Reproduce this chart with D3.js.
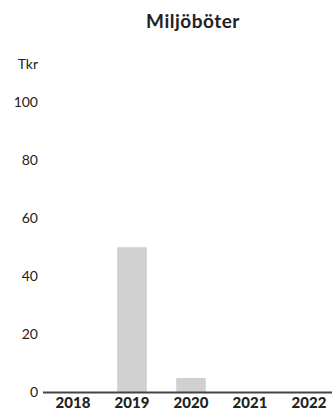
<!DOCTYPE html>
<html>
<head>
<meta charset="utf-8">
<script src="https://cdn.jsdelivr.net/npm/d3@7"></script>
<style>
  html, body { margin: 0; padding: 0; background: #fff; }
  svg { display: block; }
  text { font-family: Lato, "Noto Sans", sans-serif; fill: #222; }
</style>
</head>
<body>
<svg id="chart" width="332" height="410"></svg>
<script>
const title = "Miljöböter";
const unitLabel = "Tkr";
const categories = ["2018", "2019", "2020", "2021", "2022"];
const values = [0, 50, 5, 0, 0];
const yTicks = [0, 20, 40, 60, 80, 100];

const svg = d3.select("#chart");
const W = 332, H = 410;

const x = d3.scaleBand().domain(categories).range([43.5, 338.5]).paddingInner(0.5).paddingOuter(0.25);
const y = d3.scaleLinear().domain([0, 100]).range([392.5, 102]);

svg.append("text")
  .attr("x", 193).attr("y", 28)
  .attr("text-anchor", "middle")
  .style("font-size", "19px").style("font-weight", "bold")
  .style("letter-spacing", "0.5px")
  .text(title);

svg.append("text")
  .attr("x", 38).attr("y", 69)
  .attr("text-anchor", "end")
  .style("font-size", "14px")
  .text(unitLabel);

// y axis labels (no line, no ticks)
const yAxis = d3.axisLeft(y).tickValues(yTicks).tickSize(0).tickPadding(0);
const gy = svg.append("g").attr("transform", "translate(38,0)").call(yAxis);
gy.select(".domain").remove();
gy.selectAll("text").style("font-size", "14px").style("font-family", "Lato, 'Noto Sans', sans-serif").attr("fill", "#222");

// bars
svg.append("g").selectAll("rect").data(categories).join("rect")
  .attr("x", d => x(d))
  .attr("width", x.bandwidth())
  .attr("y", (d, i) => y(values[i]))
  .attr("height", (d, i) => y(0) - y(values[i]))
  .attr("fill", "#d0d0d0");

// baseline
svg.append("line")
  .attr("x1", 43).attr("x2", W)
  .attr("y1", y(0)).attr("y2", y(0))
  .attr("stroke", "#444").attr("stroke-width", 2);

// x axis labels
const xAxis = d3.axisBottom(x).tickSize(0).tickPadding(4);
const gx = svg.append("g").attr("transform", `translate(0,${y(0)+1})`).call(xAxis);
gx.select(".domain").remove();
gx.selectAll("text").style("font-size", "15px").style("font-weight", "900").style("font-family", "Lato, 'Noto Sans', sans-serif").attr("fill", "#222");
</script>
</body>
</html>
